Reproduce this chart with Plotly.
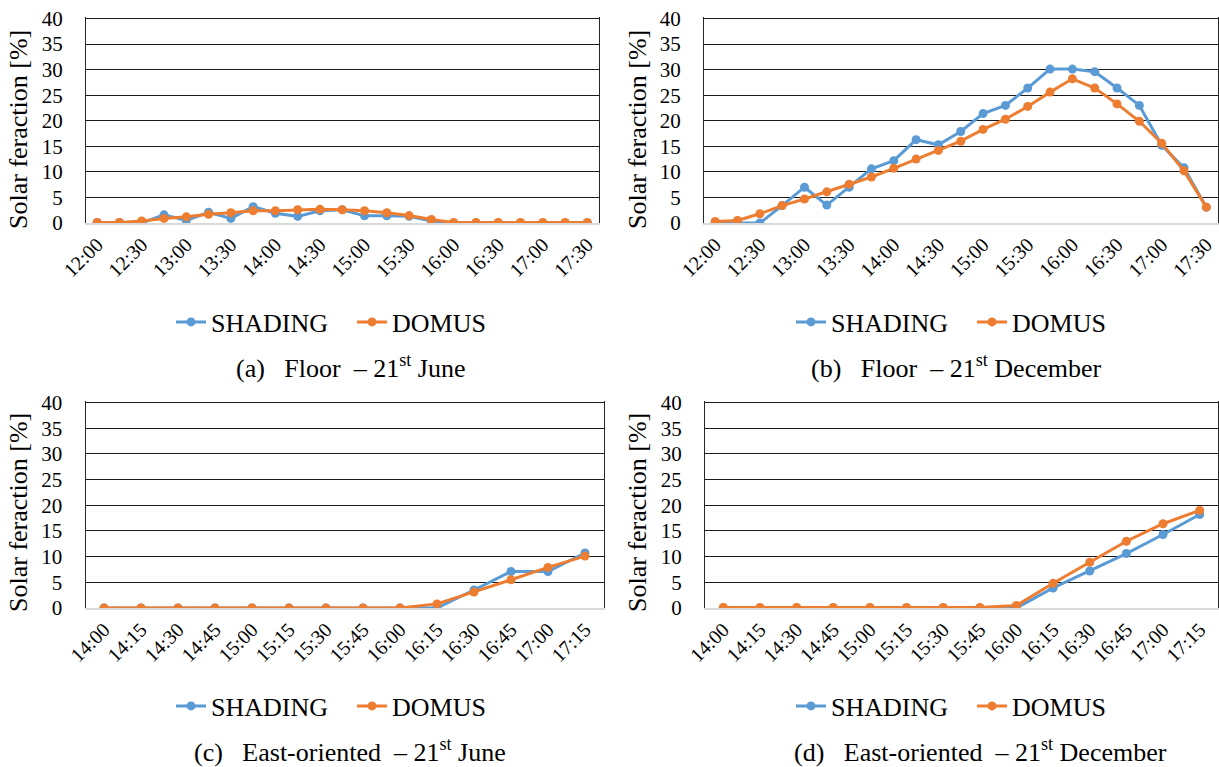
import plotly.graph_objects as go

# ---------------- data ----------------
times_top = ["12:00", "12:15", "12:30", "12:45", "13:00", "13:15", "13:30", "13:45",
             "14:00", "14:15", "14:30", "14:45", "15:00", "15:15", "15:30", "15:45",
             "16:00", "16:15", "16:30", "16:45", "17:00", "17:15", "17:30"]
ticks_top = ["12:00", "12:30", "13:00", "13:30", "14:00", "14:30", "15:00", "15:30",
             "16:00", "16:30", "17:00", "17:30"]

times_bot = ["14:00", "14:15", "14:30", "14:45", "15:00", "15:15", "15:30", "15:45",
             "16:00", "16:15", "16:30", "16:45", "17:00", "17:15"]

a_shading = [0.1, 0.1, 0.0, 1.6, 0.5, 2.1, 0.9, 3.2, 1.9, 1.3, 2.4, 2.6, 1.4, 1.4, 1.3, 0.4,
             0.0, 0.0, 0.0, 0.0, 0.0, 0.0, 0.0]
a_domus = [0.1, 0.1, 0.4, 0.9, 1.2, 1.7, 2.0, 2.4, 2.4, 2.6, 2.7, 2.6, 2.4, 2.0, 1.45, 0.7,
           0.1, 0.1, 0.1, 0.1, 0.1, 0.1, 0.1]

b_shading = [0.0, 0.0, 0.0, 3.4, 7.0, 3.5, 7.0, 10.6, 12.2, 16.3, 15.3, 17.9, 21.4, 23.0,
             26.4, 30.1, 30.1, 29.6, 26.4, 23.0, 15.2, 10.8, 3.1]
b_domus = [0.3, 0.5, 1.8, 3.4, 4.7, 6.1, 7.6, 9.0, 10.7, 12.5, 14.2, 16.0, 18.3, 20.3,
           22.8, 25.6, 28.2, 26.4, 23.3, 19.9, 15.6, 10.2, 3.1]

c_shading = [0.0, 0.0, 0.0, 0.0, 0.0, 0.0, 0.0, 0.0, 0.0, 0.0, 3.5, 7.1, 7.1, 10.7]
c_domus = [0.0, 0.0, 0.0, 0.0, 0.0, 0.0, 0.0, 0.0, 0.0, 0.8, 3.1, 5.5, 7.9, 10.1]

d_shading = [0.0, 0.0, 0.0, 0.0, 0.0, 0.0, 0.0, 0.0, 0.0, 3.9, 7.2, 10.6, 14.3, 18.2]
d_domus = [0.1, 0.1, 0.1, 0.1, 0.1, 0.1, 0.1, 0.1, 0.5, 4.8, 8.9, 13.0, 16.4, 19.0]

y_ticks = [0, 5, 10, 15, 20, 25, 30, 35, 40]
y_max = 40
series_names = ["SHADING", "DOMUS"]
captions = ["(a)\u00a0\u00a0\u00a0Floor\u00a0\u00a0– 21<sup>st</sup> June",
            "(b)\u00a0\u00a0\u00a0Floor\u00a0\u00a0– 21<sup>st</sup> December",
            "(c)\u00a0\u00a0\u00a0East-oriented\u00a0\u00a0– 21<sup>st</sup> June",
            "(d)\u00a0\u00a0\u00a0East-oriented\u00a0\u00a0– 21<sup>st</sup> December"]
y_title = "Solar feraction [%]"

# ---------------- styling ----------------
W, H = 1219, 767
FONT = "'Liberation Serif', 'Times New Roman', Times, serif"
BLUE = "#5B9BD5"
ORANGE = "#ED7D31"
TOP_PAD_PX = 1.6   # keeps the top (40) gridline from being clipped at the axis end

def px_x(p):
    return p / W

def px_y(p):
    return (H - p) / H

panels = [
    # (x categories, ticks, shading, domus, x-domain px, y-domain px (bottom, top))
    (times_top, ticks_top, a_shading, a_domus, (86, 598.5), (223, 18.5)),
    (times_top, ticks_top, b_shading, b_domus, (704, 1217.5), (223, 18.5)),
    (times_bot, times_bot, c_shading, c_domus, (85.5, 603.5), (608, 402.5)),
    (times_bot, times_bot, d_shading, d_domus, (705, 1218), (608, 402.5)),
]

fig = go.Figure()
layout = dict(
    template="none",
    width=W, height=H, autosize=False,
    margin=dict(l=0, r=0, t=0, b=0, pad=0),
    paper_bgcolor="white", plot_bgcolor="white",
    font=dict(family=FONT, size=20, color="black"),
    annotations=[],
)

legend_pos = [(171, 322), (791, 322), (171, 706), (791, 706)]
caption_pos = [(351, 366), (956, 366), (350, 750), (980, 750)]
ytitle_pos = [(18, 130), (637, 130), (18, 513), (637, 513)]

for i, (cats, ticks, sh, dm, xd, yd) in enumerate(panels):
    k = "" if i == 0 else str(i + 1)
    leg = "legend" + k
    fig.add_trace(go.Scatter(
        x=cats, y=sh, name=series_names[0], mode="lines+markers",
        line=dict(color=BLUE, width=3), marker=dict(color=BLUE, size=9),
        xaxis="x" + k, yaxis="y" + k, legend=leg))
    fig.add_trace(go.Scatter(
        x=cats, y=dm, name=series_names[1], mode="lines+markers",
        line=dict(color=ORANGE, width=3), marker=dict(color=ORANGE, size=9),
        xaxis="x" + k, yaxis="y" + k, legend=leg))

    px_per_unit = (yd[0] - yd[1]) / y_max
    layout["xaxis" + k] = dict(
        domain=[px_x(xd[0]), px_x(xd[1])],
        anchor="y" + k,
        type="category",
        categoryorder="array", categoryarray=cats,
        range=[-0.5, len(cats) - 0.5],
        tickmode="array", tickvals=ticks, ticktext=ticks,
        tickangle=-45, ticks="",
        tickfont=dict(family=FONT, size=20, color="black"),
        showgrid=False, zeroline=False,
        showline=True, linecolor="#d9d9d9", linewidth=2,
        automargin=False, fixedrange=True,
    )
    layout["yaxis" + k] = dict(
        domain=[px_y(yd[0]), px_y(yd[1] - TOP_PAD_PX)],
        anchor="x" + k,
        range=[0, y_max + TOP_PAD_PX / px_per_unit],
        tickmode="array", tickvals=y_ticks,
        ticks="", ticklabelstandoff=18, ticklabeloverflow="allow",
        tickfont=dict(family=FONT, size=21, color="black"),
        showgrid=True, gridcolor="#1a1a1a", gridwidth=1,
        zeroline=False,
        showline=True, mirror=True, linecolor="#262626", linewidth=1,
        automargin=False, fixedrange=True,
    )
    lx, ly = legend_pos[i]
    layout[leg] = dict(
        orientation="h",
        x=px_x(lx), xanchor="left",
        y=px_y(ly), yanchor="middle",
        font=dict(family=FONT, size=26, color="black"),
        bgcolor="rgba(0,0,0,0)",
        itemwidth=30,
        entrywidth=136, entrywidthmode="pixels",
        tracegroupgap=0,
    )
    cx, cy = caption_pos[i]
    layout["annotations"].append(dict(
        text=captions[i], x=px_x(cx), y=px_y(cy), xref="paper", yref="paper",
        xanchor="center", yanchor="middle", showarrow=False,
        font=dict(family=FONT, size=26, color="black")))
    tx, ty = ytitle_pos[i]
    layout["annotations"].append(dict(
        text=y_title, x=px_x(tx), y=px_y(ty), xref="paper", yref="paper",
        xanchor="center", yanchor="middle", showarrow=False, textangle=-90,
        font=dict(family=FONT, size=26, color="black")))

fig.update_layout(**layout)
fig.write_html("out.html",
               config={"displayModeBar": False, "staticPlot": True},
               post_script="document.body.style.margin='0';document.body.style.overflow='hidden';")
